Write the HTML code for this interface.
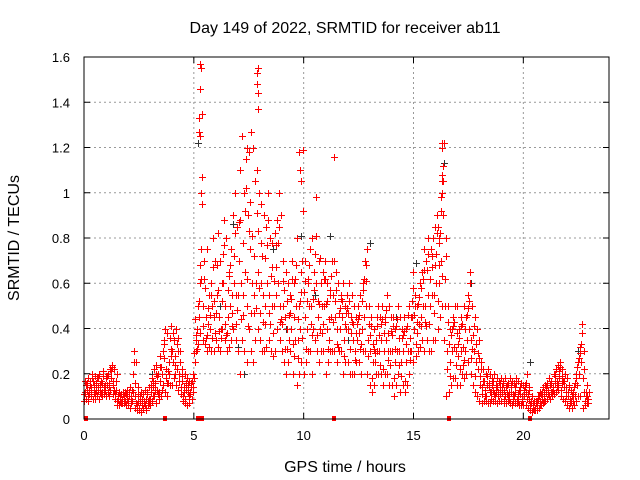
<!DOCTYPE html>
<html><head><meta charset="utf-8"><style>
html,body{margin:0;padding:0;background:#fff;}
svg{display:block;font-family:"Liberation Sans",sans-serif;}
</style></head><body>
<svg id="chart" width="640" height="480">
<text x="345" y="33" font-size="16" text-anchor="middle">Day 149 of 2022, SRMTID for receiver ab11</text>
<text x="345" y="472" font-size="16" text-anchor="middle">GPS time / hours</text>
<text transform="translate(19,238) rotate(-90)" font-size="16" text-anchor="middle">SRMTID / TECUs</text>
<g id="grid"></g><g id="ticks"></g><g id="marks"></g>
<rect x="84" y="57" width="525" height="362" fill="none" stroke="#000" stroke-width="1"/>
</svg>
<script>
const xTicks=[0,5,10,15,20];
const yTicks=[0,0.2,0.4,0.6,0.8,1,1.2,1.4,1.6];
const yTickLabels=["0","0.2","0.4","0.6","0.8","1","1.2","1.4","1.6"];
const hiV=[.15,.18,.17,.2,.19,.18,.2,.17,.21,.19,.2,.22,.24,.22,.2,.12,.11,.12,.12,.13,.14,.13,.3,.25,.14,.12,.11,.13,.12,.14,.18,.22,.24,.2,.28,.3,.4,.38,.25,.41,.35,.4,.36,.3,.22,.2,.18,.17,.16,.2,.35,.5,.6,1.35,.7,.75,.55,.6,.8,.7,.82,.7,.6,.88,.8,.65,.75,.9,1.0,.85,1.1,1.25,1.0,1.15,.9,1.27,1.2,1.05,1.1,1.0,.95,.9,.85,1.0,.8,.78,.82,.88,1.0,.9,.7,.65,.6,.55,.7,.6,.8,.5,.65,1.19,.7,.6,.75,.8,.65,.98,.7,.6,.65,.7,.6,.55,.7,1.16,.65,.6,.55,.6,.5,.55,.6,.55,.5,.45,.5,.55,.6,.7,.75,.5,.45,.4,.35,.5,.45,.5,.45,.55,.5,.45,.45,.4,.5,.45,.4,.45,.4,.5,.45,.65,.55,.5,.6,.65,.75,.7,.8,.75,.8,.85,.9,.8,1.05,1.22,.8,.5,.4,.45,.5,.5,.4,.45,.5,.45,.55,.65,.5,.45,.4,.35,.25,.22,.2,.22,.2,.18,.2,.18,.17,.18,.17,.18,.16,.18,.17,.16,.18,.17,.16,.15,.15,.2,.14,.1,.08,.08,.1,.12,.14,.15,.16,.18,.17,.2,.22,.24,.25,.22,.2,.18,.15,.13,.12,.18,.25,.32,.42,.3,.15,.12];
const q3V=[.17,.1,.15,.18,.12,.16,.18,.11,.19,.13,.19,.1,.23,.13,.17,.1,.09,.11,.08,.12,.12,.1,.25,.07,.11,.1,.09,.06,.11,.07,.15,.1,.2,.11,.23,.13,.35,.16,.2,.31,.38,.2,.3,.25,.19,.12,.16,.1,.14,.12,.44,.31,.68,.95,.62,.36,.49,.55,.67,.38,.68,.39,.52,.77,.37,.57,.68,.41,.82,.48,.87,.44,.78,1.02,.41,.96,.81,.47,.91,.58,.78,.43,.71,.88,.42,.67,.61,.77,.85,.44,.61,.31,.52,.47,.62,.28,.68,.44,.56,.92,.61,.52,.68,.37,.57,.81,.52,.71,.42,.62,.52,.44,.63,.7,.57,.32,.49,.52,.42,.49,.52,.45,.42,.38,.44,.31,.52,.62,.68,.42,.41,.33,.29,.45,.24,.44,.38,.48,.26,.39,.41,.31,.44,.24,.36,.39,.33,.46,.26,.58,.5,.43,.54,.58,.66,.41,.73,.62,.72,.68,.82,.68,.92,1.12,.72,.43,.19,.4,.43,.38,.36,.41,.24,.4,.49,.6,.31,.41,.33,.27,.22,.17,.1,.19,.12,.15,.11,.15,.1,.16,.16,.1,.15,.09,.14,.1,.16,.08,.14,.09,.14,.09,.13,.08,.06,.07,.09,.06,.12,.08,.15,.1,.16,.13,.2,.15,.23,.19,.17,.14,.14,.08,.11,.16,.23,.29,.38,.22,.12,.07];
const midV=[.12,.13,.11,.14,.15,.13,.14,.12,.16,.15,.15,.16,.18,.17,.13,.09,.08,.09,.1,.09,.1,.09,.2,.1,.08,.08,.07,.08,.09,.09,.12,.14,.16,.13,.17,.2,.27,.22,.16,.28,.25,.28,.22,.2,.17,.14,.13,.12,.12,.14,.25,.4,.45,.75,.5,.45,.42,.4,.5,.45,.55,.45,.4,.6,.5,.45,.5,.55,.6,.55,.7,.6,.55,.65,.5,.75,.6,.55,.6,.65,.6,.55,.5,.6,.55,.5,.5,.55,.6,.5,.5,.45,.4,.35,.4,.45,.5,.35,.4,.7,.45,.4,.5,.5,.4,.6,.45,.4,.5,.5,.4,.35,.45,.55,.45,.4,.4,.45,.35,.4,.4,.38,.35,.3,.35,.38,.4,.45,.5,.35,.3,.25,.25,.3,.3,.35,.3,.35,.3,.3,.3,.25,.3,.3,.25,.3,.25,.3,.3,.45,.4,.38,.42,.45,.5,.5,.55,.5,.55,.55,.6,.6,.7,.9,.5,.3,.25,.3,.32,.3,.28,.3,.32,.3,.35,.4,.35,.3,.25,.22,.15,.14,.13,.15,.14,.12,.13,.12,.12,.13,.12,.13,.11,.12,.12,.11,.12,.11,.11,.1,.1,.12,.09,.07,.05,.05,.07,.08,.09,.1,.12,.13,.12,.14,.16,.17,.18,.16,.14,.12,.1,.09,.08,.1,.15,.2,.25,.12,.1,.09];
const q2V=[.11,.16,.13,.12,.17,.09,.13,.15,.12,.14,.18,.14,.21,.15,.11,.08,.1,.07,.09,.11,.08,.07,.12,.16,.06,.05,.06,.07,.04,.08,.09,.17,.13,.19,.12,.23,.33,.18,.21,.36,.3,.24,.33,.17,.14,.1,.09,.15,.11,.17,.29,.37,.52,.62,.41,.58,.37,.46,.36,.52,.47,.57,.36,.73,.42,.38,.63,.47,.72,.42,.55,.88,.46,.92,.62,.83,.47,.72,.49,.83,.47,.72,.42,.77,.47,.63,.38,.67,.78,.43,.42,.57,.31,.46,.53,.33,.62,.27,.52,.36,.56,.31,.62,.42,.53,.73,.37,.51,.38,.62,.51,.31,.57,.43,.52,.33,.47,.53,.28,.47,.47,.31,.43,.26,.42,.46,.33,.57,.61,.28,.37,.18,.31,.41,.37,.42,.22,.43,.38,.24,.37,.18,.41,.36,.19,.37,.17,.41,.36,.52,.46,.33,.51,.41,.62,.43,.66,.42,.67,.47,.73,.52,.82,.63,.62,.22,.33,.37,.41,.24,.33,.22,.42,.26,.46,.52,.27,.37,.19,.29,.19,.11,.17,.1,.16,.09,.17,.1,.14,.11,.14,.09,.14,.1,.15,.08,.14,.09,.13,.08,.13,.16,.11,.06,.07,.04,.08,.1,.11,.12,.14,.11,.15,.12,.19,.14,.21,.13,.17,.1,.12,.07,.1,.14,.2,.27,.33,.18,.08,.1];
const loV=[.08,.09,.08,.1,.09,.11,.1,.09,.1,.11,.1,.12,.13,.11,.09,.06,.06,.07,.07,.06,.06,.05,.08,.05,.04,.04,.03,.05,.05,.06,.06,.08,.1,.07,.09,.1,.15,.12,.1,.15,.15,.18,.15,.13,.11,.08,.07,.06,.07,.09,.18,.3,.33,.38,.35,.33,.3,.32,.3,.3,.35,.32,.3,.4,.35,.3,.32,.35,.4,.35,.3,.2,.35,.3,.25,.4,.3,.25,.35,.4,.35,.3,.3,.32,.35,.3,.28,.3,.4,.35,.3,.25,.2,.25,.3,.2,.35,.15,.2,.25,.2,.25,.3,.3,.2,.35,.3,.25,.3,.3,.2,.25,.3,.3,.3,.25,.3,.3,.2,.25,.25,.2,.2,.2,.25,.25,.2,.3,.3,.2,.15,.12,.15,.2,.2,.2,.15,.2,.2,.15,.15,.1,.15,.2,.12,.15,.12,.15,.2,.3,.25,.28,.3,.32,.35,.3,.35,.3,.3,.35,.35,.4,.45,.5,.35,.1,.12,.15,.18,.18,.15,.15,.2,.18,.2,.25,.2,.15,.12,.1,.08,.07,.08,.08,.07,.07,.08,.08,.07,.08,.08,.07,.07,.08,.07,.06,.07,.07,.06,.06,.06,.06,.05,.04,.03,.04,.04,.05,.06,.07,.08,.09,.09,.1,.11,.12,.13,.1,.09,.08,.06,.05,.05,.06,.08,.1,.1,.05,.06,.07];
const spikeT=[5.3,5.32,5.28,5.25,5.22,5.3,5.35,5.33,7.9,7.88,7.86,7.9,7.92,7.4,7.5,9.8,9.85,9.9,16.3,16.32,16.28,16.35,16.3,16.25,16.1,16.15];
const spikeV=[1.57,1.55,1.46,1.33,1.27,1.25,1.07,1.0,1.55,1.53,1.48,1.44,1.37,1.2,1.18,1.18,1.1,1.05,1.22,1.2,1.08,1.05,1.0,.98,.85,.78];
const zeroT=[0.1,3.7,5.2,5.35,11.4,16.6,20.3];
const blackT=[5.3,5.2,9.9,11.2,13,15.1,16.4,7.3,7.0,12,8.6,6.8,20.3,22.5,3.1,10.5,14.2,17.6,9.2,6.2];
const blackV=[1.46,1.22,.81,.81,.78,.69,1.13,.2,.32,.35,.75,.86,.25,.3,.2,.55,.45,.6,.4,.5];
const X0=84,X1=609,Y0=419,Y1=57,XMAX=23.9,YMAX=1.6;
const sx=t=>X0+t*(X1-X0)/XMAX, sy=v=>Y0-v*(Y0-Y1)/YMAX;
const NS="http://www.w3.org/2000/svg";
function mk(tag,attrs,parent){const e=document.createElementNS(NS,tag);for(const k in attrs)e.setAttribute(k,attrs[k]);parent.appendChild(e);return e;}
const grid=document.getElementById('grid'),ticks=document.getElementById('ticks'),marks=document.getElementById('marks');
xTicks.forEach((t,i)=>{const x=sx(t);
 if(t>0){const g=mk('line',{x1:x,x2:x,y1:Y1,y2:Y0,stroke:'#999','stroke-dasharray':'2,3'},grid);
 
 }
 mk('line',{x1:x,x2:x,y1:Y0,y2:Y0-6,stroke:'#000'},ticks);
 mk('line',{x1:x,x2:x,y1:Y1,y2:Y1+6,stroke:'#000'},ticks);
 const l=mk('text',{x:x,y:Y0+21,'font-size':13,'text-anchor':'middle'},ticks);l.textContent=t;
 
 });
yTicks.forEach((v,i)=>{const y=sy(v);
 if(v>0&&v<YMAX){const g=mk('line',{x1:X0,x2:X1,y1:y,y2:y,stroke:'#999','stroke-dasharray':'2,3'},grid);
 
 }
 mk('line',{x1:X0,x2:X0+6,y1:y,y2:y,stroke:'#000'},ticks);
 mk('line',{x1:X1,x2:X1-6,y1:y,y2:y,stroke:'#000'},ticks);
 const l=mk('text',{x:X0-14,y:y+5,'font-size':13,'text-anchor':'end'},ticks);l.textContent=yTickLabels[i];
 
 });
function plus(t,v){const x=Math.round(sx(t))+0.5,y=Math.round(sy(v))+0.5;return `M${x-3.5} ${y}h7M${x} ${y-3.5}v7`;}
let db='';blackT.forEach((t,i)=>{db+=plus(t,blackV[i]);});
const pb=mk('path',{d:db,stroke:'#333','stroke-width':1,fill:'none'},marks);


let d='';
[[loV,0],[q2V,0.02],[midV,0.04],[q3V,0.06],[hiV,0.08]].forEach(([arr,off])=>arr.forEach((v,i)=>{d+=plus(i*0.1+off,v);}));
spikeT.forEach((t,i)=>{d+=plus(t,spikeV[i]);});
const pr=mk('path',{d:d,stroke:'#f00','stroke-width':1,fill:'none'},marks);


let dz='';zeroT.forEach(t=>{const x=Math.round(sx(t));dz+=`M${x-2} ${Y0-3}h4v5h-4z`;});
const pz=mk('path',{d:dz,fill:'#f00',stroke:'none'},marks);


</script>
</body></html>
